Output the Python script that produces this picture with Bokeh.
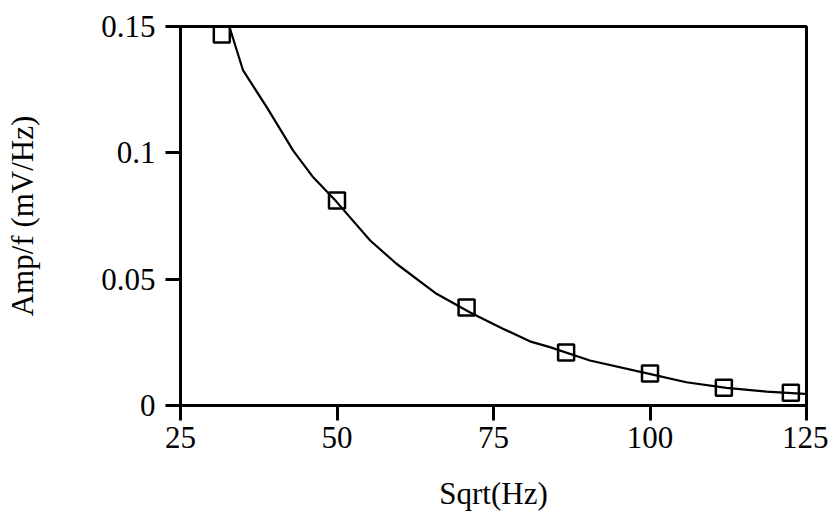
from bokeh.plotting import figure
from bokeh.models import FixedTicker, Range1d
from bokeh.embed import file_html
from bokeh.resources import INLINE

# measured data points
freq_sqrt = [31.6, 50.0, 70.7, 86.6, 100.0, 111.8, 122.5]
amp_per_f = [0.1468, 0.0811, 0.0388, 0.0210, 0.0127, 0.0070, 0.0050]

# fitted curve
curve_x = [32.8, 35.0, 38.8, 43.0, 46.2, 49.9, 55.3, 59.5, 65.9, 71.2, 76.5,
           80.8, 84.0, 90.4, 99.9, 105.8, 112.2, 118.6, 124.7, 125.0]
curve_y = [0.1500, 0.1326, 0.1180, 0.1009, 0.0903, 0.0807, 0.0653, 0.0561, 0.0442,
           0.0369, 0.0304, 0.0254, 0.0231, 0.0178, 0.0125, 0.0092, 0.0070, 0.0055,
           0.0046, 0.0046]

x_ticks = [25, 50, 75, 100, 125]
y_ticks = [0, 0.05, 0.1, 0.15]
y_tick_labels = ["0", "0.05", "0.1", "0.15"]

FONT = "Liberation Serif"

p = figure(frame_width=626, frame_height=379, output_backend="svg",
           toolbar_location=None, x_range=Range1d(25, 125), y_range=Range1d(0, 0.15),
           min_border_left=180, min_border_right=22, min_border_top=26,
           min_border_bottom=100)
p.background_fill_color = "white"
p.border_fill_color = "white"
p.outline_line_color = "black"
p.outline_line_width = 3
p.grid.visible = False

p.line(curve_x, curve_y, line_color="black", line_width=2.2)
p.scatter(freq_sqrt, amp_per_f, marker="square", size=16, fill_color=None,
          line_color="black", line_width=2.5)

for ax in (p.xaxis[0], p.yaxis[0]):
    ax.axis_line_width = 3
    ax.axis_line_color = "black"
    ax.major_tick_line_width = 3
    ax.major_tick_line_color = "black"
    ax.major_tick_out = 15
    ax.major_tick_in = 0
    ax.minor_tick_out = 0
    ax.minor_tick_in = 0
    ax.major_label_text_font = FONT
    ax.major_label_text_font_size = "31px"
    ax.major_label_text_color = "black"
    ax.axis_label_text_font = FONT
    ax.axis_label_text_font_size = "31px"
    ax.axis_label_text_font_style = "normal"
    ax.axis_label_text_color = "black"

p.xaxis.major_label_standoff = 6
p.yaxis.major_label_standoff = 10
p.xaxis.ticker = FixedTicker(ticks=x_ticks)
p.yaxis.ticker = FixedTicker(ticks=y_ticks)
p.yaxis.major_label_overrides = {t: l for t, l in zip(y_ticks, y_tick_labels)}
p.xaxis.axis_label = "Sqrt(Hz)"
p.yaxis.axis_label = "Amp/f (mV/Hz)"
p.xaxis.axis_label_standoff = 25
p.yaxis.axis_label_standoff = 58

open("out.html", "w").write(file_html(p, INLINE))
